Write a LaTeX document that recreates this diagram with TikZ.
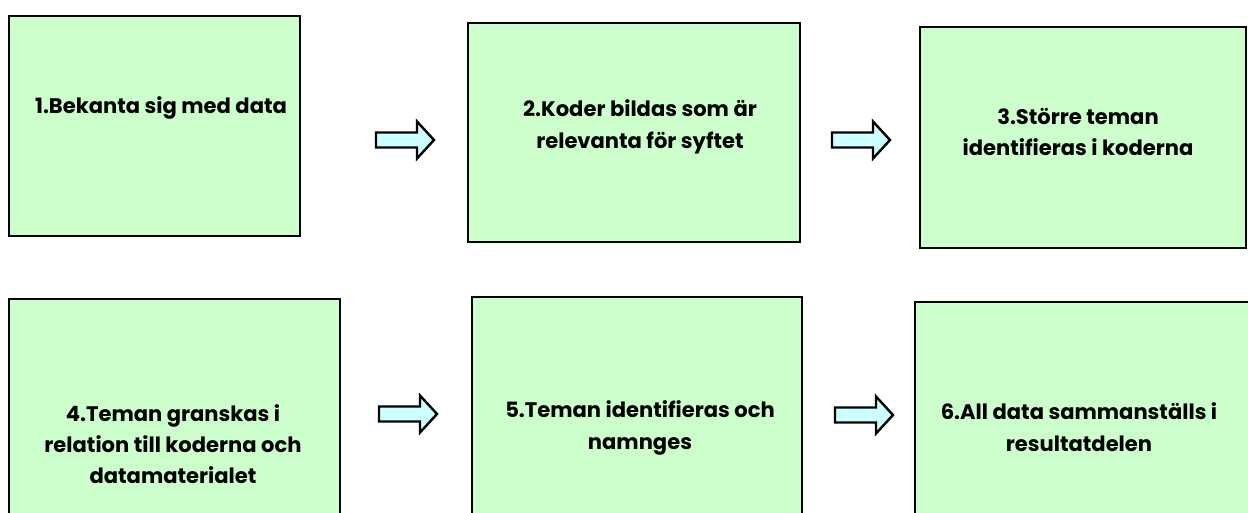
\documentclass[tikz,border=0pt]{standalone}
\usepackage{fontspec}
\setmainfont{Poppins}
\definecolor{boxgreen}{HTML}{CCFFCC}
\definecolor{arrowcyan}{HTML}{CCFFFF}
\begin{document}
\begin{tikzpicture}[x=0.75pt,y=-0.75pt,
  stagebox/.style={draw=black,fill=boxgreen,line width=1.5pt},
  stagetext/.style={align=center,font=\fontsize{15.8}{23.5}\selectfont\bfseries,inner sep=0pt},
  blockarrow/.style={draw=black,fill=arrowcyan,line width=1.8pt,line join=miter}]
\useasboundingbox (0,0) rectangle (1248,513);
\clip (0,0) rectangle (1248,513);
% boxes
\draw[stagebox] (9,16) rectangle (300,236);
\draw[stagebox] (468,23) rectangle (800,242);
\draw[stagebox] (920,27) rectangle (1246,248);
\draw[stagebox] (9,299) rectangle (340,530);
\draw[stagebox] (472,297) rectangle (802,530);
\draw[stagebox] (915,302) rectangle (1260,530);
% texts
\node[stagetext] (t1) at (161,108) {1.Bekanta sig med data};
\node[stagetext] (t2) at (640,127) {2.Koder bildas som är\\relevanta för syftet};
\node[stagetext] (t3) at (1078,132) {3.Större teman\\identifieras i koderna};
\node[stagetext] (t4) at (173,444) {4.Teman granskas i\\relation till koderna och\\datamaterialet};
\node[stagetext] (t5) at (640,428) {5.Teman identifieras och\\namnges};
\node[stagetext] (t6) at (1079,427) {6.All data sammanställs i\\resultatdelen};
% arrows
\foreach \ax/\ay in {376/140, 832/140, 379/414, 835/415}{
  \draw[blockarrow,shift={(\ax,\ay)}] (0,-7.5) -- (41,-7.5) -- (41,-18.5) -- (58,0) -- (41,18.5) -- (41,7.5) -- (0,7.5) -- cycle;
}
\end{tikzpicture}
\end{document}
